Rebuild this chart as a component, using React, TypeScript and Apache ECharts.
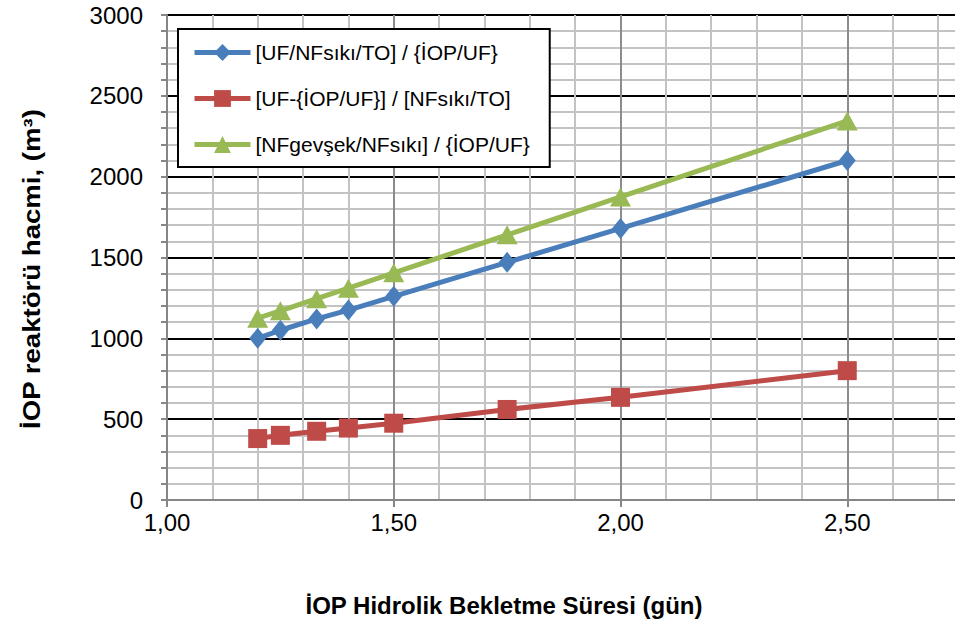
import React, { useEffect, useRef } from "react";
import * as echarts from "echarts";

const xValues = [1.2, 1.25, 1.33, 1.4, 1.5, 1.75, 2.0, 2.5];
const blueValues = [1000, 1050, 1120, 1175, 1260, 1470, 1680, 2100];
const redValues = [380, 400, 425, 445, 475, 560, 635, 800];
const greenValues = [1125, 1170, 1245, 1310, 1405, 1640, 1875, 2345];
const seriesNames = [
  "[UF/NFsıkı/TO] / {İOP/UF}",
  "[UF-{İOP/UF}] / [NFsıkı/TO]",
  "[NFgevşek/NFsıkı] / {İOP/UF}",
];
const xTitle = "İOP Hidrolik Bekletme Süresi (gün)";
const yTitle = "İOP reaktörü hacmi, (m³)";

const FONT = "'Liberation Sans', Arial, sans-serif";

export default function App() {
  const ref = useRef<HTMLDivElement>(null);
  useEffect(() => {
    if (!ref.current) return;
    const chart = echarts.init(ref.current, null, { renderer: "svg" });
    const pair = (vals: number[]) => xValues.map((x, i) => [x, vals[i]]);
    chart.setOption({
      animation: false,
      backgroundColor: "#ffffff",
      textStyle: { fontFamily: FONT },
      grid: { left: 167, right: 0, top: 15, bottom: 125 },
      xAxis: {
        type: "value",
        min: 1,
        max: 3,
        interval: 0.5,
        axisLine: { show: true, lineStyle: { color: "#868686", width: 2 } },
        axisTick: { show: true, length: 7, lineStyle: { color: "#868686", width: 2 } },
        axisLabel: {
          fontSize: 24,
          color: "#000",
          fontFamily: FONT,
          margin: 10,
          showMaxLabel: false,
          formatter: (v: number) => v.toFixed(2).replace(".", ","),
        },
        splitLine: { show: true, showMinLine: false, lineStyle: { color: "#8c8c8c", width: 2 } },
        minorTick: { show: false, splitNumber: 5 },
        minorSplitLine: { show: true, lineStyle: { color: "#c3c3c3", width: 2 } },
      },
      yAxis: {
        type: "value",
        min: 0,
        max: 3000,
        interval: 500,
        axisLine: { show: true, lineStyle: { color: "#868686", width: 2 } },
        axisTick: { show: true, length: 6, lineStyle: { color: "#868686", width: 2 } },
        minorTick: { show: true, splitNumber: 5, length: 6, lineStyle: { color: "#868686", width: 2 } },
        axisLabel: {
          fontSize: 24,
          color: "#000",
          fontFamily: FONT,
          margin: 24,
          formatter: (v: number) => String(v),
        },
        splitLine: { show: true, showMinLine: false, lineStyle: { color: "#000", width: 2 } },
        minorSplitLine: { show: true, lineStyle: { color: "#c3c3c3", width: 2 } },
      },
      legend: {
        orient: "vertical",
        left: 178,
        top: 29,
        padding: [13, 20, 12, 14],
        itemWidth: 56,
        itemHeight: 21,
        itemGap: 25,
        backgroundColor: "#ffffff",
        borderColor: "#000000",
        borderWidth: 2,
        borderRadius: 0,
        textStyle: { fontSize: 21, color: "#000", fontFamily: FONT },
        lineStyle: { width: 5 },
        data: seriesNames,
      },
      series: [
        {
          name: seriesNames[0],
          type: "line",
          data: pair(blueValues),
          symbol: "diamond",
          symbolSize: [17, 21],
          lineStyle: { color: "#4A7EBB", width: 5 },
          itemStyle: { color: "#4A7EBB" },
          z: 3,
        },
        {
          name: seriesNames[1],
          type: "line",
          data: pair(redValues),
          symbol: "rect",
          symbolSize: 19,
          lineStyle: { color: "#BE4B48", width: 5 },
          itemStyle: { color: "#BE4B48" },
          z: 3,
        },
        {
          name: seriesNames[2],
          type: "line",
          data: pair(greenValues),
          symbol: "triangle",
          symbolSize: [21, 19],
          lineStyle: { color: "#98B954", width: 5 },
          itemStyle: { color: "#98B954" },
          z: 3,
        },
      ],
      graphic: [
        {
          type: "text",
          x: 504,
          y: 605,
          style: {
            text: xTitle,
            fontSize: 24,
            fontWeight: "bold",
            fontFamily: FONT,
            fill: "#000",
            align: "center",
            verticalAlign: "middle",
          },
        },
        {
          type: "text",
          x: 32,
          y: 269,
          rotation: Math.PI / 2,
          scaleX: 1.2,
          style: {
            text: yTitle,
            fontSize: 23,
            fontWeight: "bold",
            fontFamily: FONT,
            fill: "#000",
            align: "center",
            verticalAlign: "middle",
          },
        },
      ],
    });
    return () => chart.dispose();
  }, []);
  return (
    <div
      ref={ref}
      style={{ position: "fixed", left: 0, top: 0, width: 1074, height: 625 }}
    />
  );
}
